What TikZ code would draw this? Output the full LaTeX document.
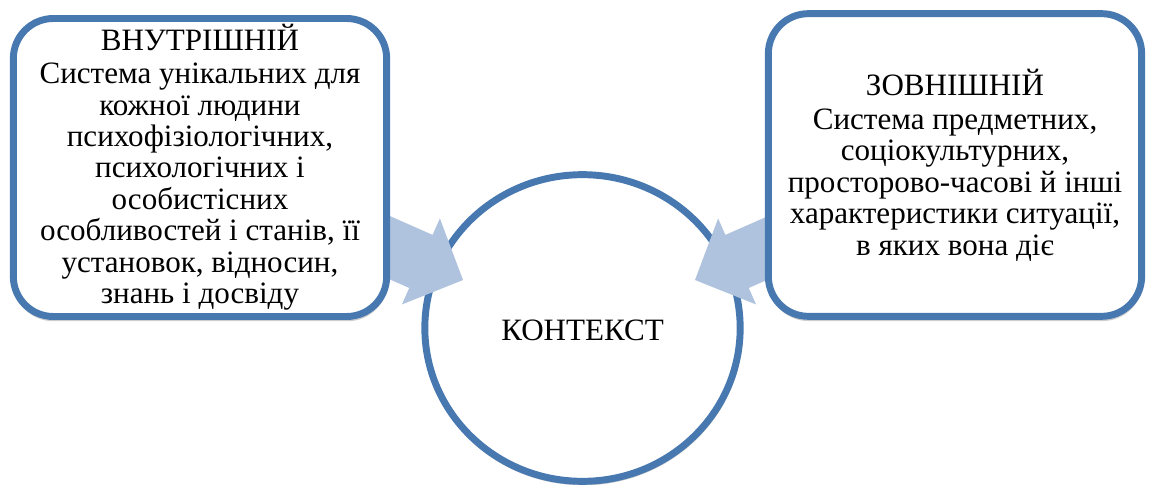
\documentclass[tikz,border=0pt]{standalone}
\usepackage{fontspec}
\setmainfont{Liberation Serif}
\usetikzlibrary{shapes.geometric}

\definecolor{rimblue}{RGB}{71,120,176}
\definecolor{flowblue}{RGB}{176,195,222}
\definecolor{shade}{RGB}{205,205,205}

\tikzset{
	part/.style={draw=rimblue, line width=5.2pt, fill=white, rounded corners=30pt,
		minimum width=280pt, align=center, inner sep=0pt},
	ghost/.style={fill=shade, rounded corners=30pt, minimum width=281pt, inner sep=0pt},
	flow/.style={fill=flowblue},
	bigarrow/.pic={
		\fill[flow] (0,0) -- (-46,-47) -- (-46,-29) -- (-150,-29) -- (-150,29) -- (-46,29) -- (-46,47) -- cycle;
	}
}

\begin{document}
\begin{tikzpicture}[x=0.75pt, y=-0.75pt, font=\fontsize{23.3}{23.6}\selectfont]
	\useasboundingbox (0,0) rectangle (1150,485);
	
	% context in the middle
	\node[ellipse, fill=shade, minimum width=240pt, minimum height=233pt] at (583,330) {};
	\node[ellipse, draw=rimblue, line width=5.2pt, fill=white, minimum width=236.5pt, minimum height=230pt] (ctx) at (582.5,328) {};
	\node at ([yshift=-2pt]ctx.center) {КОНТЕКСТ};
	
	% arrows into the context
	\coordinate (tipL) at ([shift={(-119.5,-48)}]ctx.center);
	\coordinate (tipR) at ([shift={(112.5,-48)}]ctx.center);
	\pic[rotate=-23.8] at (tipL) {bigarrow};
	\pic[rotate=203.8] at (tipR) {bigarrow};
	
	% inner and outer parts
	\node[ghost, minimum height=226pt] at (200.5,170.5) {};
	\node[ghost, minimum height=229.5pt] at (955.5,168) {};
	\node[part, minimum height=223.5pt] (inner) at (200,167.5) {ВНУТРІШНІЙ\\[1pt]
		Система унікальних для\\кожної людини\\психофізіологічних,\\психологічних і\\особистісних\\особливостей і станів, її\\установок, відносин,\\знань і досвіду};
	\node[part, minimum height=227pt] (outer) at (955,165) {ЗОВНІШНІЙ\\[2pt]
		Система предметних,\\соціокультурних,\\просторово-часові й інші\\характеристики ситуації,\\в яких вона діє};
\end{tikzpicture}
\end{document}
